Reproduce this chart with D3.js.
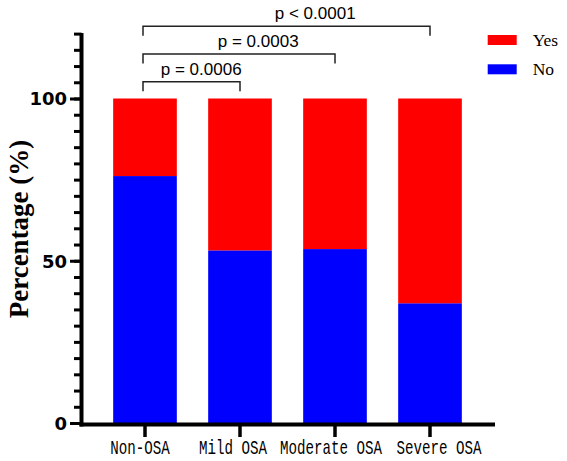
<!DOCTYPE html>
<meta charset="UTF-8">
<html>
	<head>
		<script src="https://d3js.org/d3.v7.min.js"></script>
		<style>
			body { margin: 0; background: #fff; }
			.Chart text.PLabel { font: 17px "Liberation Sans", Arial, sans-serif; fill: #000; }
			.Chart text.YTick { font: bold 18px "DejaVu Sans", sans-serif; fill: #000; }
			.Chart text.XTick { font: 17px "Liberation Mono", monospace; fill: #000; }
			.Chart text.Legend { font: 17.5px "Liberation Serif", serif; fill: #000; }
			.Chart text.YTitle { font: bold 27px "Liberation Serif", serif; fill: #000; }
		</style>
	</head>
	<body>
		<svg class="Chart"></svg>
		<script type="text/javascript">
			// categories and stacked percentages
			var Groups = ["Non-OSA", "Mild OSA", "Moderate OSA", "Severe OSA"];
			var NoPct = [76.1, 53.2, 53.6, 36.9];
			var YesPct = [23.9, 46.8, 46.4, 63.1];
			var SeriesNames = ["No", "Yes"];
			var SeriesColors = ["#0000FF", "#FF0000"];

			var MajorTicks = [0, 50, 100];
			var MinorTicks = d3.range(0, 121, 5);

			// significance brackets: first group, second group, label, height (in % units)
			var CompFrom = ["Non-OSA", "Non-OSA", "Non-OSA"];
			var CompTo = ["Mild OSA", "Moderate OSA", "Severe OSA"];
			var CompText = ["p = 0.0006", "p = 0.0003", "p < 0.0001"];
			var CompLevel = [105.2, 113.7, 122.3];

			var Width = 567, Height = 461;
			// the category labels in the original sit a little off their ticks
			var LabelShift = [-5, -7, -4, 9];

			var DataArr = Groups.map(function(g, i){ return {"Group":g, "No":NoPct[i], "Yes":YesPct[i]}; });
			var Stacked = d3.stack().keys(SeriesNames)(DataArr);

			var XScale = d3.scaleBand()
							.domain(Groups)
							.range([97.5, 477.5])
							.paddingInner(0.33)
							.paddingOuter(0.165);
			var YScale = d3.scaleLinear()
							.domain([0, 120])
							.range([423, 33.6]);
			var Center = function(g){ return XScale(g) + XScale.bandwidth()/2; };

			var Svg = d3.select(".Chart").attr("width", Width).attr("height", Height);

			// bars
			Svg.append("g")
				.selectAll("g")
				.data(Stacked)
				.enter()
				.append("g")
				.attr("fill", function(d, i){ return SeriesColors[i]; })
				.selectAll("rect")
				.data(function(d){ return d; })
				.enter()
				.append("rect")
				.attr("x", function(d){ return XScale(d.data.Group); })
				.attr("y", function(d){ return YScale(d[1]); })
				.attr("width", XScale.bandwidth())
				.attr("height", function(d){ return YScale(d[0]) - YScale(d[1]); });

			// y axis (minor + major ticks)
			var YAxisX = 81.5;
			var YAxis = Svg.append("g").attr("transform", "translate(" + YAxisX + ",0)");
			YAxis.call(d3.axisLeft(YScale).tickValues(MinorTicks).tickSize(7.5).tickFormat(""));
			YAxis.selectAll(".tick line").attr("stroke-width", 3);
			YAxis.select(".domain").remove();
			var YMajor = Svg.append("g").attr("transform", "translate(" + YAxisX + ",0)")
							.call(d3.axisLeft(YScale).tickValues(MajorTicks).tickSize(11.5).tickPadding(3));
			YMajor.select(".domain").remove();
			YMajor.selectAll(".tick line").attr("stroke-width", 3);
			YMajor.selectAll("text").attr("class", "YTick").attr("dy", "0.36em").attr("font-size", null).attr("font-family", null);
			Svg.append("line")
				.attr("x1", YAxisX).attr("x2", YAxisX)
				.attr("y1", YScale(120) - 0.5).attr("y2", 426.5)
				.attr("stroke", "#000").attr("stroke-width", 4);

			// x axis; labels stretched vertically like the narrow CJK font of the original
			var XAxisY = 424.5;
			var XAxis = Svg.append("g").attr("transform", "translate(0," + XAxisY + ")")
							.call(d3.axisBottom(XScale).tickSize(12.5));
			XAxis.select(".domain").remove();
			XAxis.selectAll(".tick line").attr("stroke-width", 3.5);
			XAxis.selectAll("text")
				.attr("class", "XTick")
				.attr("font-size", null).attr("font-family", null)
				.attr("y", 12.9)
				.attr("transform", "scale(1,1.2)")
				.attr("dx", function(d, i){ return LabelShift[i]; })
				.attr("textLength", function(d){ return d.length * 8.5; })
				.attr("lengthAdjust", "spacingAndGlyphs");
			Svg.append("line")
				.attr("x1", YAxisX - 2).attr("x2", 495)
				.attr("y1", XAxisY).attr("y2", XAxisY)
				.attr("stroke", "#000").attr("stroke-width", 4);

			// y title
			Svg.append("text")
				.attr("class", "YTitle")
				.attr("transform", "translate(28,229) rotate(-90)")
				.attr("text-anchor", "middle")
				.text("Percentage (%)");

			// significance brackets
			var Brackets = Svg.append("g")
							.selectAll("g")
							.data(CompText)
							.enter()
							.append("g");
			Brackets.append("path")
				.attr("fill", "none")
				.attr("stroke", "#222")
				.attr("stroke-width", 1.5)
				.attr("d", function(d, i){
					var x1 = Center(CompFrom[i]) - 2, x2 = Center(CompTo[i]), y = YScale(CompLevel[i]);
					return "M" + x1 + "," + (y + 9.5) + "V" + y + "H" + x2 + "V" + (y + 9.5);
				});
			Brackets.append("text")
				.attr("class", "PLabel")
				.attr("text-anchor", "middle")
				.attr("x", function(d, i){
					var x1 = Center(CompFrom[i]) - 2, x2 = Center(CompTo[i]);
					return x1 + (x2 - x1) * 0.6;
				})
				.attr("y", function(d, i){ return YScale(CompLevel[i]) - 6.8; })
				.text(function(d){ return d; });

			// legend (Yes on top)
			var LegendKeys = ["Yes", "No"];
			var LegendColors = ["#FF0000", "#0000FF"];
			var Legend = Svg.append("g")
							.selectAll("g")
							.data(LegendKeys)
							.enter()
							.append("g")
							.attr("transform", function(d, i){ return "translate(487.7," + (35 + i * 29.3) + ")"; });
			Legend.append("rect")
				.attr("width", 29).attr("height", 10)
				.attr("fill", function(d, i){ return LegendColors[i]; });
			Legend.append("text")
				.attr("class", "Legend")
				.attr("x", 45)
				.attr("y", 11)
				.text(function(d){ return d; });
		</script>
	</body>
</html>
